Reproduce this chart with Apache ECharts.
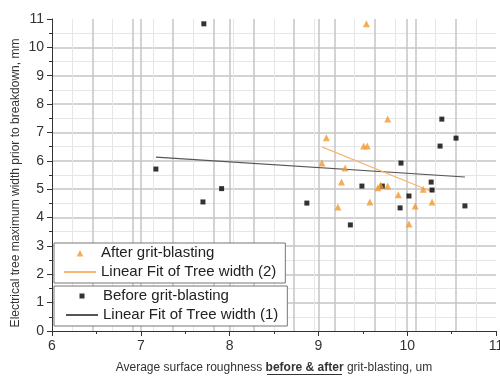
<!DOCTYPE html>
<html><head><meta charset="utf-8">
<script src="https://cdn.jsdelivr.net/npm/echarts@6/dist/echarts.min.js"></script>
<style>html,body{margin:0;padding:0;background:#fff}#c{width:500px;height:376px}</style>
</head><body><div id="c"></div>
<script>
// Data
const beforeX = [7.17,7.71,7.91,7.70,8.87,9.36,9.49,9.72,10.02,9.92,10.27,10.28,10.65,9.93,10.39,10.37,10.55];
const beforeY = [5.71,10.83,5.02,4.55,4.51,3.74,5.11,5.11,4.76,4.34,5.25,4.97,4.41,5.92,7.47,6.52,6.80];
const afterX = [9.54,9.78,9.09,9.51,9.55,9.04,9.30,9.26,9.67,9.70,9.78,9.58,9.22,9.90,10.18,10.09,10.28,10.02];
const afterY = [10.83,7.47,6.81,6.52,6.52,5.92,5.75,5.25,5.05,5.15,5.11,4.55,4.37,4.80,5.00,4.41,4.55,3.77];
const fit1X = [7.17,10.65];
const fit1Y = [6.13,5.43];
const fit2X = [9.04,10.28];
const fit2Y = [6.49,4.91];
const seriesNames = ['After grit-blasting','Linear Fit of Tree width (2)','Before grit-blasting','Linear Fit of Tree width (1)'];
const xTitle = 'Average surface roughness {b|before & after} grit-blasting, um';
const yTitle = 'Electrical tree maximum width prior to breakdown, mm';

const zip = (a,b) => a.map((v,i)=>[v,b[i]]);
const FONT = '"Liberation Sans", Arial, sans-serif';
const ORANGE = '#F29A2E';
const GRID = '#c4c4c4';
const MINOR = '#e6e6e6';
// legend icons: small symbol centred in a wide icon box
const triIcon = 'path://M0 0L0.01 0L0 0.01Z M32 7L31.99 7L32 6.99Z M12.6 7L16 0.6L19.4 7Z';
const sqIcon = 'path://M0 0L0.01 0L0 0.01Z M32 5L31.99 5L32 4.99Z M13.5 0L18.5 0L18.5 5L13.5 5Z';

const chart = echarts.init(document.getElementById('c'), null, {renderer:'canvas'});
chart.setOption({
  animation:false,
  backgroundColor:'#fff',
  textStyle:{fontFamily:FONT},
  grid:{left:52,right:4,top:19,bottom:45,containLabel:false,outerBoundsMode:'none',show:false},
  xAxis:[{
    type:'value',min:6,max:11,interval:1,
    axisLine:{show:true,lineStyle:{color:'#333',width:1}},
    axisTick:{show:true,length:5,lineStyle:{color:'#333'}},
    minorTick:{show:true,splitNumber:2,length:3,lineStyle:{color:'#333'}},
    axisLabel:{color:'#333',fontSize:14,margin:8,fontFamily:FONT},
    splitLine:{show:true,showMinLine:false,showMaxLine:false,lineStyle:{color:GRID,width:1.5}},
    name:xTitle,nameLocation:'middle',nameGap:31,nameMoveOverlap:false,
    nameTextStyle:{color:'#333',fontSize:12,fontFamily:FONT,rich:{b:{fontWeight:'bold',fontSize:12,color:'#333',fontFamily:FONT}}}
  },{
    type:'value',min:-1,max:10,interval:1,position:'top',
    axisLine:{show:false},axisTick:{show:false},axisLabel:{show:false},
    splitLine:{show:true,showMinLine:false,showMaxLine:false,lineStyle:{color:GRID,width:1.5}},
    minorTick:{show:false,splitNumber:2},
    minorSplitLine:{show:true,lineStyle:{color:MINOR,width:1}}
  }],
  yAxis:[{
    type:'value',min:0,max:11,interval:1,position:'left',
    axisLine:{show:true,onZero:false,lineStyle:{color:'#333',width:1}},
    axisTick:{show:true,length:5,lineStyle:{color:'#333'}},
    minorTick:{show:true,splitNumber:2,length:3,lineStyle:{color:'#333'}},
    axisLabel:{color:'#333',fontSize:14,margin:8,fontFamily:FONT},
    splitLine:{show:false},
    name:yTitle,nameLocation:'middle',nameGap:30,nameMoveOverlap:false,
    nameTextStyle:{color:'#333',fontSize:12,fontFamily:FONT,padding:[0,16,0,0]}
  },{
    type:'value',min:0,max:11,interval:1,position:'right',
    axisLine:{show:false},axisTick:{show:false},axisLabel:{show:false},
    splitLine:{show:true,showMinLine:false,showMaxLine:false,lineStyle:{color:GRID,width:1.5}},
    minorTick:{show:false,splitNumber:2},
    minorSplitLine:{show:true,lineStyle:{color:MINOR,width:1}}
  }],
  legend:[{
    data:[{name:seriesNames[0],icon:triIcon},{name:seriesNames[1],itemStyle:{opacity:0}}],
    orient:'vertical',left:54,top:243,
    padding:[2,9,3,9],itemGap:3,itemWidth:32,itemHeight:7,
    backgroundColor:'#fff',borderColor:'#777',borderWidth:1,
    textStyle:{fontSize:15,lineHeight:16,color:'#222',fontFamily:FONT}
  },{
    data:[{name:seriesNames[2],icon:sqIcon},{name:seriesNames[3],itemStyle:{opacity:0}}],
    orient:'vertical',left:54,top:286,
    padding:[2,9,3,11],itemGap:3,itemWidth:32,itemHeight:5,
    backgroundColor:'#fff',borderColor:'#777',borderWidth:1,
    textStyle:{fontSize:15,lineHeight:16,color:'#222',fontFamily:FONT}
  }],
  graphic:[{
    type:'line',shape:{x1:267,y1:374.5,x2:342,y2:374.5},
    style:{stroke:'#333',lineWidth:1},silent:true
  }],
  series:[{
    name:seriesNames[2],type:'scatter',symbol:'rect',symbolSize:5,
    itemStyle:{color:'#000'},data:zip(beforeX,beforeY),z:3
  },{
    name:seriesNames[3],type:'line',symbol:'none',
    lineStyle:{color:'#555',width:1.2},itemStyle:{color:'#555'},data:zip(fit1X,fit1Y),z:2
  },{
    name:seriesNames[0],type:'scatter',symbol:'triangle',symbolSize:7,
    itemStyle:{color:ORANGE},data:zip(afterX,afterY),z:4
  },{
    name:seriesNames[1],type:'line',symbol:'none',
    lineStyle:{color:'#F5B772',width:1.2},itemStyle:{color:'#F5B772'},data:zip(fit2X,fit2Y),z:2
  }]
});
</script></body></html>
